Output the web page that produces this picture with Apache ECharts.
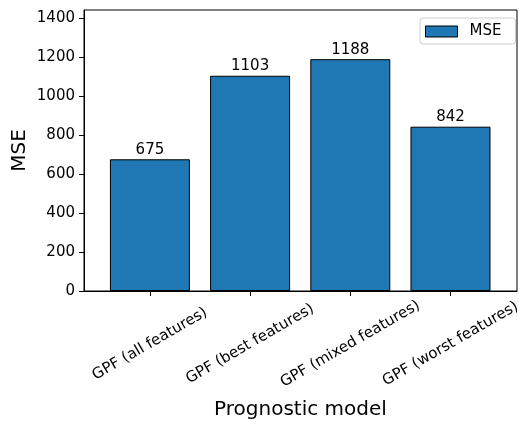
<!DOCTYPE html>
<html>
<head>
<meta charset="utf-8">
<script src="https://cdn.jsdelivr.net/npm/echarts@6/dist/echarts.min.js"></script>
<style>
  html, body { margin: 0; padding: 0; background: #fff; }
  #chart { width: 519px; height: 422px; }
</style>
</head>
<body>
<div id="chart"></div>
<script>
// ---- data ----
const categories = ['GPF (all features)', 'GPF (best features)', 'GPF (mixed features)', 'GPF (worst features)'];
const mseValues = [675, 1103, 1188, 842];
const yTicks = [0, 200, 400, 600, 800, 1000, 1200, 1400];
const seriesName = 'MSE';
const xAxisTitle = 'Prognostic model';
const yAxisTitle = 'MSE';

const FONT = 'DejaVu Sans';
const chart = echarts.init(document.getElementById('chart'), null, { renderer: 'canvas' });

const catIdx = categories.map((_, i) => i);
const barData = mseValues.map((v, i) => [i, v]);

chart.setOption({
  animation: false,
  textStyle: { fontFamily: FONT },
  grid: {
    left: 84, right: 2, top: 10, bottom: 131,
    containLabel: false, outerBoundsMode: 'none',
    show: true, borderColor: '#000', borderWidth: 1, backgroundColor: 'transparent'
  },
  legend: {
    data: [{ name: seriesName, icon: 'rect' }],
    left: 420, top: 18,
    itemWidth: 32, itemHeight: 11,
    padding: [6, 14, 5, 5],
    backgroundColor: 'rgba(255,255,255,0.8)',
    borderColor: '#cccccc', borderWidth: 1, borderRadius: 3,
    itemStyle: { borderColor: '#000', borderWidth: 1 },
    textStyle: { fontFamily: FONT, fontSize: 15, color: '#000', padding: [0, 0, 0, 7] }
  },
  xAxis: {
    type: 'value',
    min: -0.658, max: 3.664,
    splitLine: { show: false },
    axisLine: { show: true, onZero: false, lineStyle: { color: '#000', width: 1 } },
    axisTick: { show: true, length: 5, lineStyle: { color: '#000' }, customValues: catIdx },
    axisLabel: {
      customValues: catIdx,
      rotate: 30, align: 'center', verticalAlign: 'middle',
      margin: 53,
      fontFamily: FONT, fontSize: 15, color: '#000',
      formatter: function (v) { return categories[Math.round(v)] || ''; }
    },
    name: xAxisTitle, nameLocation: 'middle', nameGap: 119, nameMoveOverlap: false,
    nameTextStyle: { fontFamily: FONT, fontSize: 20, color: '#000', verticalAlign: 'middle' }
  },
  yAxis: {
    type: 'value',
    min: 0, max: 1440,
    splitLine: { show: false },
    axisLine: { show: true, onZero: false, lineStyle: { color: '#000', width: 1 } },
    axisTick: { show: true, length: 5, lineStyle: { color: '#000' }, customValues: yTicks },
    axisLabel: {
      customValues: yTicks, margin: 9, fontFamily: FONT, fontSize: 15, color: '#000',
      formatter: function (v) { return String(v); }
    },
    name: yAxisTitle, nameLocation: 'middle', nameGap: 64, nameMoveOverlap: false,
    nameTextStyle: { fontFamily: FONT, fontSize: 20, color: '#000', align: 'center', verticalAlign: 'middle' }
  },
  series: [{
    name: seriesName,
    type: 'bar',
    data: barData,
    barWidth: 80,
    itemStyle: { color: '#1f77b4', borderColor: '#000', borderWidth: 1 },
    label: {
      show: true, position: 'top', distance: 2,
      fontFamily: FONT, fontSize: 15, color: '#000',
      formatter: function (p) { return String(p.value[1]); }
    }
  }]
});
</script>
</body>
</html>
